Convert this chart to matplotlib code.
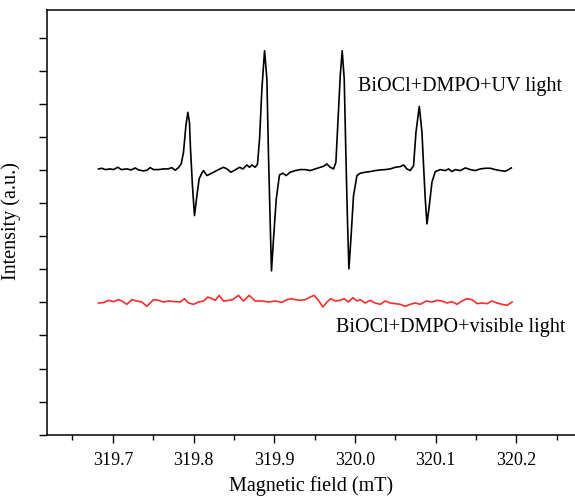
#!/usr/bin/env python3

import numpy as np
import matplotlib

matplotlib.use("Agg")
import matplotlib.pyplot as plt
from matplotlib.ticker import MultipleLocator

plt.rc("font", family="serif")
plt.rcParams["font.serif"] = ["Liberation Serif", "DejaVu Serif"]

# BiOCl + DMPO under UV light (DMPO-OH quartet)
uv_field = [
    319.6822, 319.6864, 319.6905, 319.6967, 319.7007, 319.7062, 319.7103,
    319.7173, 319.7227, 319.7276, 319.7317, 319.7379, 319.7421, 319.7462,
    319.7503, 319.7565, 319.7627, 319.7682, 319.7731, 319.7772, 319.7813,
    319.7846, 319.7875, 319.7905, 319.7929, 319.7949, 319.7962, 319.7986,
    319.8011, 319.8041, 319.8069, 319.8103, 319.8123, 319.8165, 319.8247,
    319.8309, 319.8371, 319.8413, 319.8462, 319.8516, 319.8569, 319.8611,
    319.8660, 319.8693, 319.8722, 319.8763, 319.8792, 319.8817, 319.8846,
    319.8879, 319.8908, 319.8928, 319.8949, 319.8965, 319.8990, 319.9024,
    319.9064, 319.9107, 319.9147, 319.9197, 319.9259, 319.9321, 319.9383,
    319.9445, 319.9507, 319.9569, 319.9610, 319.9652, 319.9693, 319.9734,
    319.9763, 319.9788, 319.9817, 319.9841, 319.9866, 319.9887, 319.9907,
    319.9924, 319.9949, 319.9981, 320.0024, 320.0064, 320.0126, 320.0188,
    320.0250, 320.0312, 320.0374, 320.0436, 320.0498, 320.0560, 320.0601,
    320.0643, 320.0684, 320.0725, 320.0755, 320.0796, 320.0829, 320.0849,
    320.0870, 320.0891, 320.0920, 320.0953, 320.0994, 320.1056, 320.1118,
    320.1159, 320.1201, 320.1242, 320.1304, 320.1366, 320.1428, 320.1489,
    320.1551, 320.1613, 320.1675, 320.1737, 320.1799, 320.1861, 320.1902,
    320.1936,
]
uv_intensity = [
    8.03, 8.05, 8.01, 8.03, 8.01, 8.08, 8.01,
    8.03, 8.00, 8.06, 8.00, 7.97, 7.99, 8.07,
    8.01, 8.01, 8.03, 8.03, 8.07, 7.99, 8.07,
    8.18, 8.53, 9.34, 9.74, 9.44, 8.63, 7.52,
    6.62, 7.22, 7.73, 7.91, 7.98, 7.83, 7.93,
    8.01, 8.08, 8.03, 7.93, 8.00, 8.08, 8.03,
    8.15, 8.08, 8.15, 8.08, 8.18, 8.93, 10.44,
    11.60, 10.75, 8.43, 6.42, 4.95, 5.91, 7.12,
    7.85, 7.90, 7.83, 7.93, 7.98, 8.01, 8.01,
    7.98, 8.03, 8.08, 8.11, 8.18, 8.08, 8.03,
    8.23, 9.44, 10.85, 11.60, 10.75, 8.43, 6.42,
    5.01, 5.91, 7.22, 7.83, 7.90, 7.93, 7.95,
    7.98, 8.00, 8.01, 8.03, 8.08, 8.10, 8.15,
    8.03, 7.98, 8.13, 9.14, 9.92, 9.14, 8.13,
    7.12, 6.37, 6.92, 7.63, 7.95, 8.01, 7.98,
    8.03, 7.95, 8.01, 7.98, 8.06, 8.01, 7.98,
    8.03, 8.05, 8.05, 8.01, 7.98, 7.96, 8.01,
    8.06,
]

# BiOCl + DMPO under visible light (no signal)
vis_field = [
    319.6822, 319.6884, 319.6945, 319.7007, 319.7069, 319.7112, 319.7173,
    319.7235, 319.7297, 319.7359, 319.7421, 319.7503, 319.7565, 319.7627,
    319.7689, 319.7772, 319.7834, 319.7887, 319.7937, 319.7999, 319.8061,
    319.8123, 319.8177, 319.8227, 319.8268, 319.8317, 319.8371, 319.8432,
    319.8482, 319.8556, 319.8618, 319.8689, 319.8763, 319.8846, 319.8928,
    319.9011, 319.9094, 319.9156, 319.9218, 319.9259, 319.9321, 319.9383,
    319.9445, 319.9494, 319.9548, 319.9602, 319.9652, 319.9701, 319.9755,
    319.9817, 319.9866, 319.9919, 319.9974, 320.0024, 320.0064, 320.0126,
    320.0188, 320.0250, 320.0312, 320.0374, 320.0436, 320.0498, 320.0560,
    320.0622, 320.0684, 320.0746, 320.0808, 320.0882, 320.0953, 320.1015,
    320.1077, 320.1139, 320.1201, 320.1263, 320.1325, 320.1387, 320.1449,
    320.1511, 320.1573, 320.1635, 320.1697, 320.1759, 320.1821, 320.1883,
    320.1945,
]
vis_intensity = [
    3.98, 3.99, 4.06, 4.02, 4.08, 4.04, 3.94,
    4.08, 4.04, 4.01, 3.88, 4.08, 4.06, 4.01,
    4.04, 4.02, 4.01, 4.11, 3.98, 3.94, 4.01,
    4.04, 4.16, 4.11, 4.06, 4.21, 4.04, 4.06,
    4.08, 4.21, 4.04, 4.21, 4.04, 4.04, 4.01,
    4.04, 4.00, 4.08, 4.11, 4.08, 4.06, 4.08,
    4.16, 4.21, 4.06, 3.86, 4.01, 4.11, 4.04,
    4.06, 4.11, 4.01, 4.14, 4.04, 4.08, 3.98,
    4.06, 3.98, 3.94, 4.04, 3.98, 3.96, 3.94,
    3.88, 3.94, 3.98, 3.94, 4.04, 4.01, 4.06,
    4.04, 3.98, 4.02, 3.94, 4.04, 4.11, 4.08,
    3.96, 3.98, 3.96, 4.04, 3.98, 3.94, 3.91,
    4.01,
]

x_ticks = [319.7, 319.8, 319.9, 320.0, 320.1, 320.2]
uv_label = "BiOCl+DMPO+UV light"
vis_label = "BiOCl+DMPO+visible light"


fig = plt.figure(figsize=(5.75, 5.02), dpi=100)
ax = fig.add_axes([0.082, 0.132, 0.918, 0.846])

ax.plot(uv_field, uv_intensity, color="black", linewidth=1.2)
ax.plot(vis_field, vis_intensity, color="#ff2a2a", linewidth=1.2)

ax.text(320.004, 10.56, uv_label, fontsize=14.5, va="center", ha="left")
ax.text(319.977, 3.28, vis_label, fontsize=14.5, va="center", ha="left")

ax.set_xlim(319.6186, 320.2725)
ax.set_ylim(0, 12.83)
ax.set_xticks(x_ticks)
ax.set_xticklabels([f"{t:.1f}" for t in x_ticks])
ax.xaxis.set_minor_locator(MultipleLocator(0.05))
ax.yaxis.set_major_locator(MultipleLocator(1))
ax.set_yticklabels([])
ax.tick_params(axis="both", which="major", direction="out", length=6,
               width=1.0, labelsize=13)
ax.tick_params(axis="x", which="major", pad=6)
ax.tick_params(axis="x", which="minor", direction="out", length=3.5,
               width=1.0)
ax.tick_params(axis="y", which="major", length=6, labelleft=False)

ax.spines["right"].set_visible(False)
for side in ["left", "bottom", "top"]:
    ax.spines[side].set_linewidth(1.1)

ax.set_xlabel("Magnetic field (mT)", fontsize=14.5, labelpad=5)
ax.set_ylabel("Intensity (a.u.)", fontsize=14.5)
ax.yaxis.set_label_coords(-0.05, 0.505)

fig.savefig("out.png", dpi=100)
